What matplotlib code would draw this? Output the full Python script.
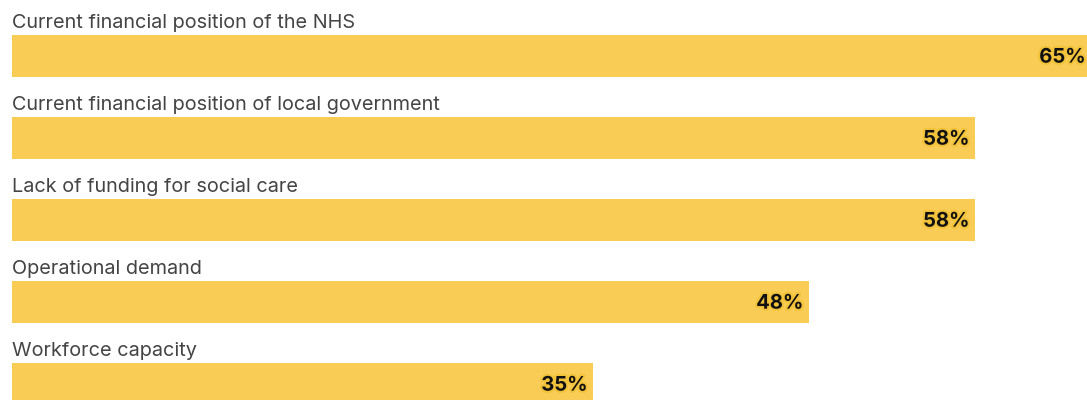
import matplotlib.pyplot as plt
import matplotlib.patheffects as pe

categories = [
    "Current financial position of the NHS",
    "Current financial position of local government",
    "Lack of funding for social care",
    "Operational demand",
    "Workforce capacity",
]
values = [65, 58, 58, 48, 35]

bar_color = "#F9CD55"

fig = plt.figure(figsize=(10.87, 4.0), dpi=100)
ax = fig.add_axes([0, 0, 1, 1])

ypos = list(range(len(values)))
ax.barh(ypos, values, height=0.52, color=bar_color, left=0)

for i, (cat, v) in enumerate(zip(categories, values)):
    ax.text(0, i - 0.345, cat, ha="left", va="baseline", fontsize=14.3,
            family="Inter", color="#444444")
    ax.text(v - 0.33, i + 0.02, f"{v}%", ha="right", va="center", fontsize=14.5,
            family="Inter", fontweight="bold", color="#111111",
            path_effects=[pe.withStroke(linewidth=3, foreground="#F2C23A")])

ax.set_xlim(-0.723, 64.76)
ax.set_ylim(4.195, -0.683)
ax.axis("off")

fig.savefig("out.png", dpi=100)
